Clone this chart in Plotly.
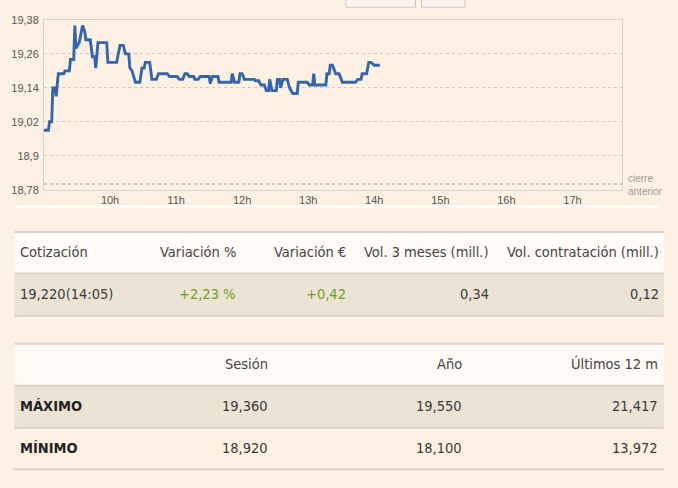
import plotly.graph_objects as go

# ---------------- data ----------------
times = ["09:00","09:04","09:05","09:07","09:08","09:10","09:11","09:12","09:13","09:18",
         "09:19","09:23","09:24","09:27","09:28","09:29","09:32","09:35","09:37","09:38",
         "09:42","09:44","09:46","09:47","09:49","09:57","09:58","10:06","10:09","10:12",
         "10:14","10:17","10:18","10:20","10:23","10:27","10:29","10:31","10:32","10:36",
         "10:38","10:42","10:44","10:52","10:54","11:01","11:03","11:06","11:08","11:10",
         "11:12","11:16","11:17","11:20","11:22","11:30","11:31","11:33","11:38","11:39",
         "11:50","11:51","11:53","11:57","11:58","12:00","12:02","12:11","12:12","12:15",
         "12:17","12:20","12:22","12:24","12:25","12:27","12:31","12:32","12:34","12:35",
         "12:37","12:41","12:43","12:46","12:50","12:51","12:59","13:01","13:04","13:05",
         "13:06","13:16","13:17","13:19","13:20","13:22","13:25","13:28","13:31","13:43",
         "13:45","13:48","13:49","13:53","13:55","13:57","14:00","14:05"]
prices = [18.99,18.99,19.02,19.02,19.14,19.14,19.11,19.14,19.19,19.19,
          19.20,19.20,19.24,19.24,19.36,19.28,19.30,19.36,19.34,19.31,
          19.31,19.25,19.25,19.21,19.30,19.30,19.23,19.23,19.29,19.29,
          19.26,19.26,19.21,19.20,19.16,19.16,19.21,19.21,19.23,19.23,
          19.17,19.17,19.19,19.19,19.18,19.18,19.17,19.17,19.19,19.19,
          19.18,19.18,19.17,19.17,19.18,19.18,19.155,19.18,19.18,19.16,
          19.16,19.19,19.16,19.16,19.19,19.19,19.17,19.17,19.165,19.165,
          19.15,19.15,19.13,19.13,19.17,19.13,19.13,19.17,19.17,19.14,
          19.17,19.17,19.14,19.12,19.12,19.16,19.16,19.15,19.15,19.19,
          19.15,19.15,19.19,19.19,19.22,19.22,19.19,19.19,19.16,19.16,
          19.17,19.17,19.19,19.19,19.23,19.23,19.22,19.22]
session_day = "2024-01-15"
x_start, x_end = "09:00", "17:45"
prev_close = 18.80

y_ticks = [18.78, 18.90, 19.02, 19.14, 19.26, 19.38]
y_tick_labels = ["18,78", "18,9", "19,02", "19,14", "19,26", "19,38"]
x_tick_hours = ["10:00", "11:00", "12:00", "13:00", "14:00", "15:00", "16:00", "17:00"]
x_tick_labels = ["10h", "11h", "12h", "13h", "14h", "15h", "16h", "17h"]

quote_headers = ["Cotización", "Variación %", "Variación €", "Vol. 3 meses (mill.)", "Vol. contratación (mill.)"]
quote_values = ["19,220(14:05)", "+2,23 %", "+0,42", "0,34", "0,12"]
range_headers = ["", "Sesión", "Año", "Últimos 12 m"]
range_row_labels = ["MÁXIMO", "MÍNIMO"]
range_max = ["19,360", "19,550", "21,417"]
range_min = ["18,920", "18,100", "13,972"]

# ---------------- layout helpers ----------------
W, H = 678, 488
def px(x): return x / W
def py(y): return 1 - y / H

BG = "#fdf1e3"
HEAD_BG = "#fffbf6"
ROW_BG = "#ece3d5"
BORDER = "#ddd3c5"
TXT = "#3a3a3a"
GREEN = "#6a9f1f"
FONT = "Liberation Sans Narrow, DejaVu Sans Condensed, Arial Narrow, sans-serif"

xs = [f"{session_day} {t}" for t in times]

fig = go.Figure()
fig.add_trace(go.Scatter(x=xs, y=prices, mode="lines",
                         line=dict(color="#3465ad", width=2.9), hoverinfo="skip"))

shapes = []
annotations = []

# previous close dotted line
shapes.append(dict(type="line", xref="x domain", yref="y", x0=0, x1=1,
                   y0=prev_close, y1=prev_close,
                   line=dict(color="#9a9a9a", width=1, dash="dot")))
annotations.append(dict(xref="paper", yref="y", x=px(626), y=prev_close - 0.003,
                        text="cierre<br>anterior", showarrow=False, xanchor="left",
                        yanchor="middle", align="left",
                        font=dict(family="Liberation Sans, Arial", size=10, color="#a09a94")))

# faint top buttons
for x0, x1 in [(346, 415.5), (421.5, 465)]:
    shapes.append(dict(type="rect", xref="paper", yref="paper", x0=px(x0), x1=px(x1),
                       y0=py(1.3), y1=py(-10), fillcolor="#fdf6ee",
                       line=dict(color="#cfc8bf", width=1)))

# white separator under x labels
shapes.append(dict(type="line", xref="paper", yref="paper", x0=px(16), x1=px(660),
                   y0=py(205.5), y1=py(205.5), line=dict(color="#ffffff", width=2)))

TL, TR = 14.3, 664

def band(y0, y1, color):
    shapes.append(dict(type="rect", xref="paper", yref="paper", x0=px(TL), x1=px(TR),
                       y0=py(y1), y1=py(y0), fillcolor=color, line=dict(width=0), layer="below"))

def hline(y, w=2):
    shapes.append(dict(type="line", xref="paper", yref="paper", x0=px(TL), x1=px(TR),
                       y0=py(y), y1=py(y), line=dict(color=BORDER, width=w)))

def text(x, y, s, anchor="right", color=TXT, bold=False, size=14.5):
    shift = -2 if anchor == "left" else 2
    annotations.append(dict(xref="paper", yref="paper", x=px(x + shift), y=py(y),
                            text=f"<b>{s}</b>" if bold else s, showarrow=False,
                            xanchor=anchor, yanchor="middle",
                            font=dict(family=FONT, size=size, color=color)))

# table 1
band(232, 274, HEAD_BG)
band(274, 317.5, ROW_BG)
hline(231.8); hline(274.2); hline(317.5)
q_x = [20, 236, 346, 489, 659]
q_anchor = ["left", "right", "right", "right", "right"]
q_col = [TXT, GREEN, GREEN, TXT, TXT]
for i, h in enumerate(quote_headers):
    text(q_x[i], 252, h, q_anchor[i], "#444444")
for i, v in enumerate(quote_values):
    text(q_x[i], 295.5, v, q_anchor[i], q_col[i])

# table 2
band(347, 389, HEAD_BG)
band(389, 432.5, ROW_BG)
hline(346.2); hline(389.2); hline(432.5); hline(475)
r_x = [20, 268, 462, 658]
for i, h in enumerate(range_headers):
    if h:
        text(r_x[i], 367, h, "right", "#444444")
for r, (lab, vals) in enumerate(zip(range_row_labels, [range_max, range_min])):
    yy = 410 + r * 43
    text(r_x[0], yy, lab, "left", "#222222", bold=True)
    for i, v in enumerate(vals):
        text(r_x[i + 1], yy, v, "right", TXT)

fig.update_layout(
    width=W, height=H, margin=dict(l=0, r=0, t=0, b=0),
    paper_bgcolor=BG, plot_bgcolor=BG, showlegend=False,
    shapes=shapes, annotations=annotations,
    xaxis=dict(type="date", domain=[px(44), px(622)],
               range=[f"{session_day} {x_start}", f"{session_day} {x_end}"],
               tickvals=[f"{session_day} {t}" for t in x_tick_hours], ticktext=x_tick_labels,
               showgrid=False, zeroline=False, ticks="",
               showline=True, mirror=True, linecolor="#dbd2c6", linewidth=1,
               tickfont=dict(family="Liberation Sans, Arial", size=11, color="#555555"),
               fixedrange=True),
    yaxis=dict(domain=[py(188.3), py(14.3)], range=[18.78, 19.38],
               tickvals=y_ticks, ticktext=y_tick_labels,
               showgrid=True, gridcolor="#cfcac4", griddash="dot", gridwidth=1,
               zeroline=False, ticks="outside", ticklen=2, tickcolor="rgba(0,0,0,0)",
               showline=True, mirror=True, linecolor="#dbd2c6", linewidth=1,
               tickfont=dict(family="Liberation Sans, Arial", size=11, color="#555555"),
               fixedrange=True),
)

fig.write_html("out.html", config={"displayModeBar": False},
               post_script="document.body.style.margin='0';document.body.style.background='%s';" % BG)
